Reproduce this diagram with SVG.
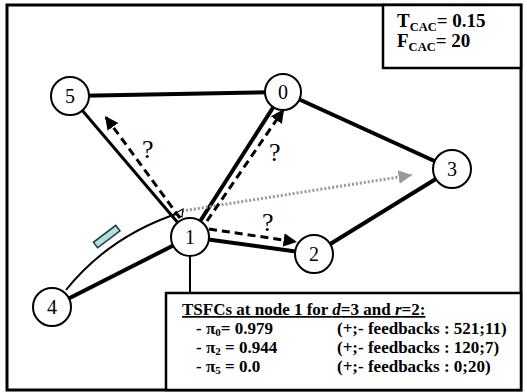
<svg xmlns="http://www.w3.org/2000/svg" width="527" height="392" viewBox="0 0 527 392">
<defs>
<style>
.frame{fill:#fff;stroke:#000;stroke-width:3}
.box{fill:#fff;stroke:#000;stroke-width:2.5}
.node circle{fill:#fff;stroke:#000;stroke-width:2}
.node text{font-family:"Liberation Serif",serif;font-size:20px;text-anchor:middle;fill:#000}
.edge{stroke:#000;stroke-width:4;fill:none;stroke-linecap:butt}
.dash{stroke:#000;stroke-width:3;fill:none;stroke-dasharray:8,5}
.dot{stroke:#999;stroke-width:3;fill:none;stroke-dasharray:2,2}
.q{font-family:"Liberation Serif",serif;font-size:26px;fill:#000}
.b{font-family:"Liberation Serif",serif;font-weight:bold;fill:#000}
.t{font-size:17px}
</style>
<marker id="ah" viewBox="0 0 10 10" refX="10" refY="5" markerWidth="4.5" markerHeight="4.5" orient="auto" markerUnits="strokeWidth">
<path d="M0,0 L10,5 L0,10 z" fill="#000"/>
</marker>
<marker id="ahg" viewBox="0 0 10 10" refX="10" refY="5" markerWidth="4.5" markerHeight="4.5" orient="auto" markerUnits="strokeWidth">
<path d="M0,0 L10,5 L0,10 z" fill="#999"/>
</marker>
</defs>
<rect class="frame" x="7" y="5" width="514" height="385"/>
<rect class="box" x="383" y="5" width="138" height="63"/>
<text class="b" x="397" y="27" font-size="19">T<tspan font-size="12.5" dy="4">CAC</tspan><tspan dy="-4">= 0.15</tspan></text>
<text class="b" x="397" y="47" font-size="19">F<tspan font-size="12.5" dy="4">CAC</tspan><tspan dy="-4">= 20</tspan></text>
<g id="connectors">
<line class="edge" x1="70" y1="96" x2="283" y2="92"/>
<line class="edge" x1="283" y1="92" x2="452" y2="169"/>
<line class="edge" x1="452" y1="169" x2="314" y2="254"/>
<line class="edge" x1="190" y1="237" x2="314" y2="254"/>
<line class="edge" x1="190" y1="237" x2="283" y2="92"/>
<line class="edge" x1="70" y1="96" x2="190" y2="237" style="stroke-width:3"/>
<line class="edge" x1="52" y1="307" x2="190" y2="237"/>
<line x1="190" y1="250" x2="190" y2="294" stroke="#000" stroke-width="2"/>
<path d="M66,290 Q110,235 182,212" fill="none" stroke="#000" stroke-width="2"/>
<line class="dot" x1="182" y1="211" x2="412" y2="175" marker-end="url(#ahg)"/>
<path d="M174,214 L183,209 L182,217 z" fill="#fff" stroke="#000" stroke-width="1.2"/>
<line class="dash" x1="180" y1="218" x2="105" y2="116" marker-end="url(#ah)"/>
<line class="dash" x1="207" y1="221" x2="284" y2="109" marker-end="url(#ah)"/>
<line class="dash" x1="209" y1="229" x2="297" y2="242" marker-end="url(#ah)"/>
</g>
<rect x="93" y="233" width="28" height="7" transform="rotate(-37 107 237)" fill="#b2e0e0" stroke="#1a3c3c" stroke-width="1.5"/>
<text class="q" x="142" y="158">?</text>
<text class="q" x="269" y="161">?</text>
<text class="q" x="262" y="231">?</text>
<g id="n5" class="node"><circle cx="70" cy="96" r="19"/><text x="70" y="103">5</text></g>
<g id="n0" class="node"><circle cx="283" cy="92" r="18"/><text x="283" y="99">0</text></g>
<g id="n3" class="node"><circle cx="452" cy="169" r="19"/><text x="452" y="176">3</text></g>
<g id="n2" class="node"><circle cx="314" cy="254" r="19"/><text x="314" y="261">2</text></g>
<g id="n1" class="node"><circle cx="190" cy="237" r="19"/><text x="190" y="244">1</text></g>
<g id="n4" class="node"><circle cx="52" cy="307" r="19"/><text x="52" y="314">4</text></g>
<g id="tsfc">
<rect class="box" x="166" y="293" width="355" height="97"/>
<text class="b t" x="182" y="315" text-decoration="underline">TSFCs at node 1 for <tspan font-style="italic">d</tspan>=3 and <tspan font-style="italic">r</tspan>=2:</text>
<text class="b t" x="196" y="334">- π<tspan font-size="11" dy="2">0</tspan><tspan dy="-2">= 0.979</tspan></text>
<text class="b t" x="196" y="353">- π<tspan font-size="11" dy="2">2</tspan><tspan dy="-2"> = 0.944</tspan></text>
<text class="b t" x="196" y="372">- π<tspan font-size="11" dy="2">5</tspan><tspan dy="-2"> = 0.0</tspan></text>
<text class="b t" x="337" y="334">(+;- feedbacks : 521;11)</text>
<text class="b t" x="337" y="353">(+;- feedbacks : 120;7)</text>
<text class="b t" x="337" y="372">(+;- feedbacks : 0;20)</text>
</g>
</svg>
